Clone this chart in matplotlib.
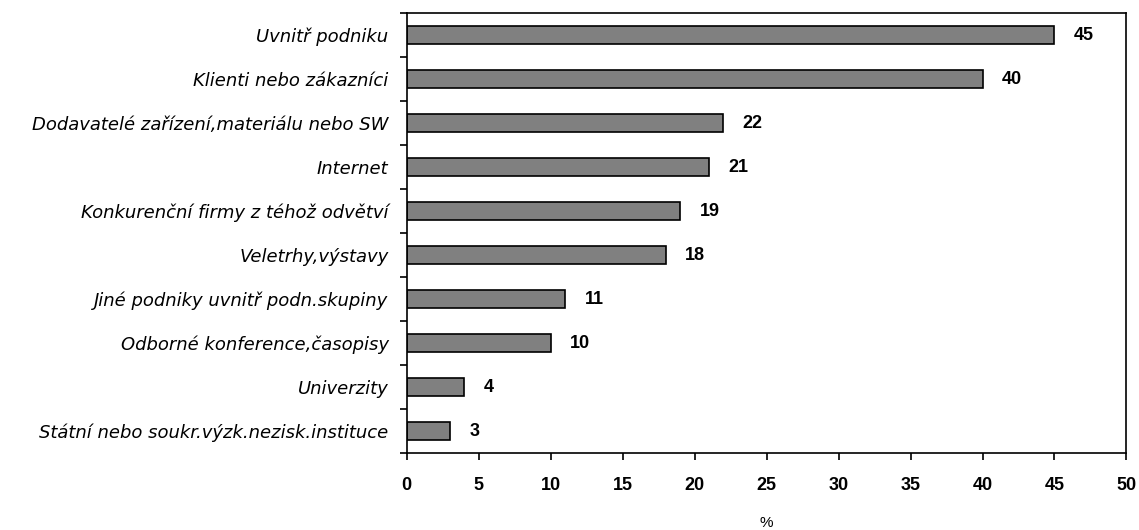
import matplotlib.pyplot as plt
import numpy as np

categories = [
    'Uvnitř podniku',
    'Klienti nebo zákazníci',
    'Dodavatelé zařízení,materiálu nebo SW',
    'Internet',
    'Konkurenční firmy z téhož odvětví',
    'Veletrhy,výstavy',
    'Jiné podniky uvnitř podn.skupiny',
    'Odborné konference,časopisy',
    'Univerzity',
    'Státní nebo soukr.výzk.nezisk.instituce',
]
values = [45, 40, 22, 21, 19, 18, 11, 10, 4, 3]
x_ticks = [0, 5, 10, 15, 20, 25, 30, 35, 40, 45, 50]

num_font = ['Liberation Sans Narrow', 'Liberation Sans']

fig = plt.figure(figsize=(11.39, 5.30), dpi=100)
ax = fig.add_axes([0.357, 0.145, 0.632, 0.830])

y = np.arange(len(categories))[::-1]
ax.barh(y, values, height=0.42, color='#808080', edgecolor='black', linewidth=1.2)

# value labels just right of each bar
for yi, v in zip(y, values):
    ax.text(v + 1.35, yi, str(v), va='center', ha='left', fontsize=13,
            fontweight='bold', family=num_font)

ax.set_xlim(0, 50)
ax.set_ylim(-0.5, len(categories) - 0.5)
ax.set_xticks(x_ticks)
ax.set_xticklabels([str(t) for t in x_ticks], fontsize=13, fontweight='bold',
                   family=num_font)
ax.set_yticks(y)
ax.set_yticklabels(categories, fontsize=13, style='italic', family='DejaVu Sans')
ax.tick_params(axis='y', length=0, pad=13)
# category separators as minor ticks on the left
ax.set_yticks(np.arange(-0.5, len(categories)), minor=True)
ax.tick_params(axis='y', which='minor', length=5, width=1.2, direction='out')
ax.tick_params(axis='x', length=5, width=1.2, direction='out', pad=12)
for s in ax.spines.values():
    s.set_linewidth(1.2)

ax.set_xlabel('%', fontsize=11, family='Liberation Sans', labelpad=16)

fig.savefig('out.png', dpi=100)
